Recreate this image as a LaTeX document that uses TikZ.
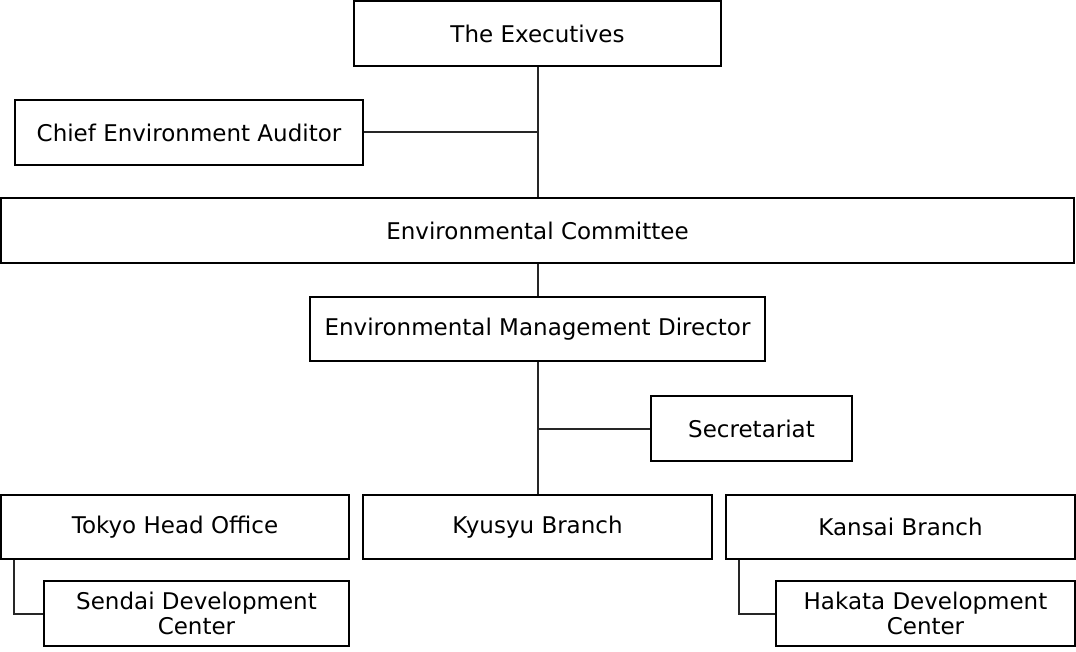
\documentclass[tikz,border=0pt]{standalone}
\usepackage{fontspec}
\setmainfont{DejaVu Sans}
\begin{document}
\begin{tikzpicture}[x=1pt,y=-1pt,
  box/.style={draw=black,line width=2pt,inner sep=0pt,align=center,font=\fontsize{23}{25}\selectfont},
  conn/.style={draw=black!85,line width=2pt}]
\useasboundingbox (0,0) rectangle (1076,652);
\newcommand{\bx}[6]{\node[box,minimum width=#4-#2,minimum height=#5-#3] (#1) at ({(#2+#4)/2},{(#3+#5)/2}) {#6};}
\bx{exec}{354}{1}{721}{66}{The Executives}
\bx{aud}{15}{100}{363}{165}{Chief Environment Auditor}
\bx{com}{1}{198}{1074}{263}{Environmental Committee}
\bx{dir}{310}{297}{765}{361}{Environmental Management Director}
\bx{sec}{651}{396}{852}{461}{Secretariat}
\bx{tok}{1}{495}{349}{559}{Tokyo Head Office}
\bx{kyu}{363}{495}{712}{559}{Kyusyu Branch}
\bx{kan}{726}{495}{1075}{559}{Kansai Branch}
\bx{sen}{44}{581}{349}{646}{Sendai Development\\Center}
\bx{hak}{776}{581}{1075}{646}{Hakata Development\\Center}
\draw[conn] (exec.south) -- (com.north);
\draw[conn] (aud.east) -- (aud.east -| exec.south);
\draw[conn] (com.south) -- (dir.north);
\draw[conn] (dir.south) -- (kyu.north);
\draw[conn] (sec.west -| dir.south) -- (sec.west);
\draw[conn] ([xshift=14pt]tok.south west) |- (sen.west);
\draw[conn] ([xshift=14pt]kan.south west) |- (hak.west);
\end{tikzpicture}
\end{document}
